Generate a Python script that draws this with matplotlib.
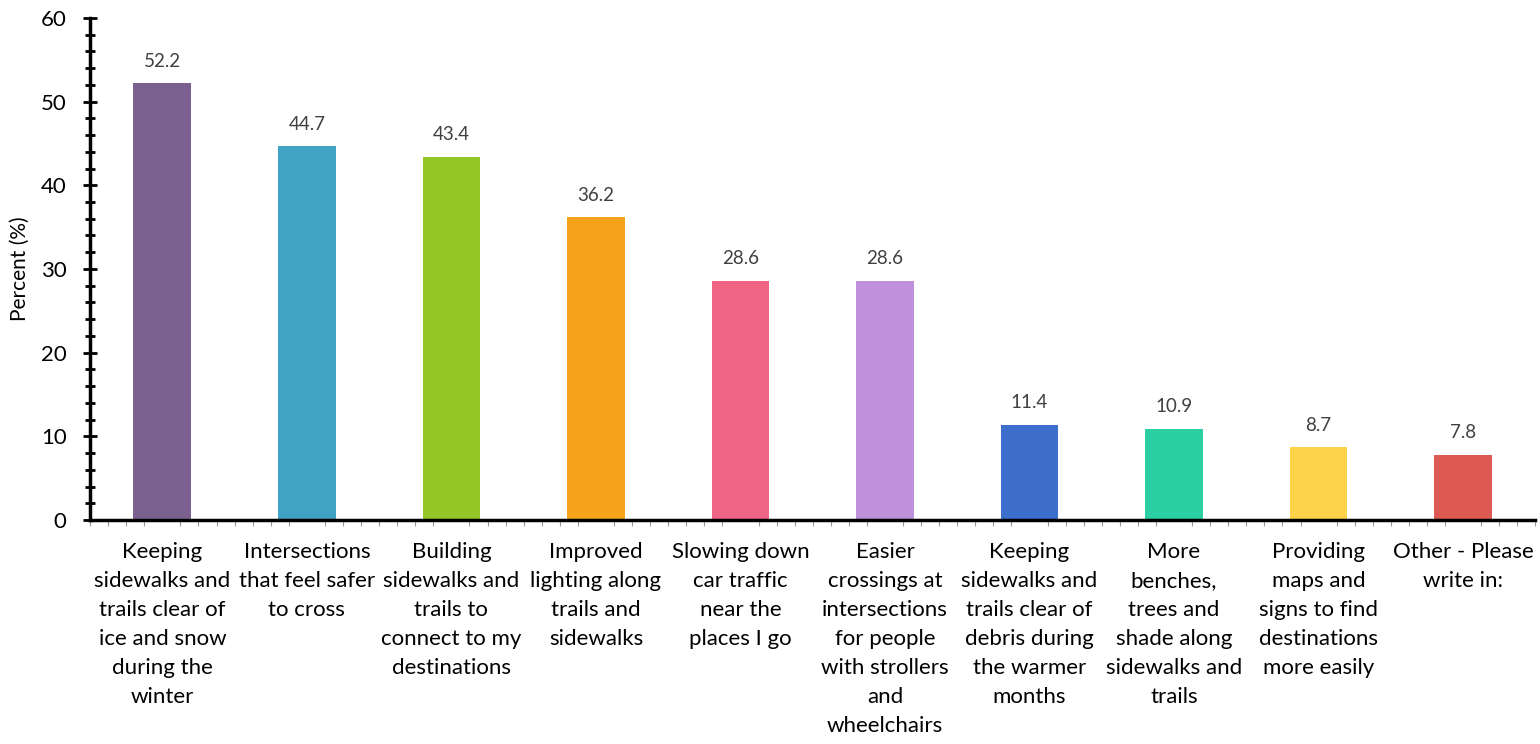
import numpy as np
import matplotlib.pyplot as plt
from matplotlib.ticker import MultipleLocator

plt.rcParams['font.family'] = ['Lato', 'DejaVu Sans']

categories = [
    "Keeping\nsidewalks and\ntrails clear of\nice and snow\nduring the\nwinter",
    "Intersections\nthat feel safer\nto cross",
    "Building\nsidewalks and\ntrails to\nconnect to my\ndestinations",
    "Improved\nlighting along\ntrails and\nsidewalks",
    "Slowing down\ncar traffic\nnear the\nplaces I go",
    "Easier\ncrossings at\nintersections\nfor people\nwith strollers\nand\nwheelchairs",
    "Keeping\nsidewalks and\ntrails clear of\ndebris during\nthe warmer\nmonths",
    "More\nbenches,\ntrees and\nshade along\nsidewalks and\ntrails",
    "Providing\nmaps and\nsigns to find\ndestinations\nmore easily",
    "Other - Please\nwrite in:",
]
values = [52.2, 44.7, 43.4, 36.2, 28.6, 28.6, 11.4, 10.9, 8.7, 7.8]
colors = ['#7B6190', '#41A3C4', '#93C627', '#F4A31A', '#F06585',
          '#BF90DB', '#3D6ECC', '#2BCFA3', '#FDD34A', '#DC5A52']

fig, ax = plt.subplots(figsize=(15.4, 7.44), dpi=100)
fig.subplots_adjust(left=0.0585, right=0.997, top=0.976, bottom=0.301)

x = np.arange(len(values))
bars = ax.bar(x, values, width=0.4, color=colors)
for b, v in zip(bars, values):
    ax.text(b.get_x() + b.get_width() / 2, v + 1.6, f"{v:.1f}",
            ha='center', va='bottom', fontsize=13.5, color='#404040')

ax.set_xlim(-0.5, len(values) - 0.5)
ax.set_ylim(0, 60)
ax.yaxis.set_major_locator(MultipleLocator(10))
ax.yaxis.set_minor_locator(MultipleLocator(2))
ax.xaxis.set_minor_locator(MultipleLocator(0.125))
ax.set_xticks(x)
ax.set_xticklabels(categories, fontsize=16, linespacing=1.56)
ax.tick_params(axis='x', which='major', length=0, pad=16)
ax.tick_params(axis='x', which='minor', length=4, color='#999999', width=0.8)
ax.tick_params(axis='y', which='major', direction='inout', length=10, width=2, labelsize=16, pad=12)
ax.tick_params(axis='y', which='minor', direction='inout', length=7, width=2)
ax.set_ylabel('Percent (%)', fontsize=15, labelpad=8)

for s in ['top', 'right']:
    ax.spines[s].set_visible(False)
ax.spines['left'].set_linewidth(2.5)
ax.spines['bottom'].set_linewidth(2.5)

plt.savefig('out.png', dpi=100)
